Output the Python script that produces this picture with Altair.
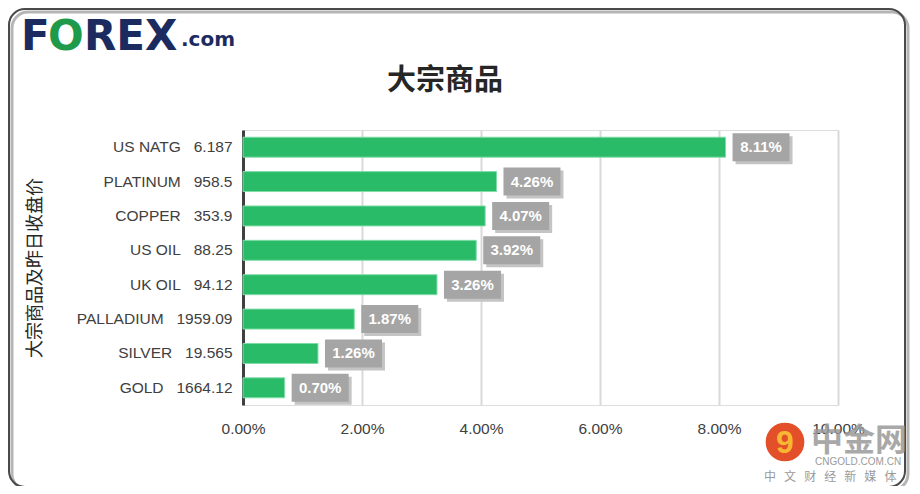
import altair as alt
import pandas as pd

names = ["US NATG", "PLATINUM", "COPPER", "US OIL", "UK OIL", "PALLADIUM", "SILVER", "GOLD"]
prices = ["6.187", "958.5", "353.9", "88.25", "94.12", "1959.09", "19.565", "1664.12"]
pcts = [8.11, 4.26, 4.07, 3.92, 3.26, 1.87, 1.26, 0.70]
x_ticks = [0, 0.02, 0.04, 0.06, 0.08, 0.10]

NB = "\u00a0"
labels = [f"{n}{NB*3}{p}" for n, p in zip(names, prices)]
df = pd.DataFrame({"label": labels, "pct": [v / 100 for v in pcts]})

W, H = 595, 275
y_enc = alt.Y("label:N", sort=labels, title="大宗商品及昨日收盘价",
              scale=alt.Scale(paddingInner=0.42, paddingOuter=0.21),
              axis=alt.Axis(ticks=False, domainColor="#404040", domainWidth=3,
                            labelFontSize=15.5, labelColor="#404040", labelPadding=11,
                            labelFont="Liberation Sans",
                            titleFont="Noto Sans CJK SC", titleFontSize=18,
                            titleFontWeight="normal", titleColor="#262626",
                            titleX=-208, titleY=H / 2, titleAngle=-90,
                            titleBaseline="middle", titleAlign="center"))
x_enc = alt.X("pct:Q", title=None,
              scale=alt.Scale(domain=[0, 0.1], nice=False),
              axis=alt.Axis(values=x_ticks, format=".2%", domain=False, ticks=False,
                            grid=True, gridColor="#d9d9d9", gridWidth=2, labelFlush=False,
                            labelFontSize=15.5, labelColor="#404040", labelPadding=16,
                            labelFont="Liberation Sans"))

base = alt.Chart(df)

bars = base.mark_bar(color="#29bb68", stroke="#7fdca6", strokeWidth=1).encode(x=x_enc, y=y_enc)
shadow = base.mark_bar(color="#c4c4c4", size=28, xOffset=10, x2Offset=67, yOffset=3).encode(
    x="pct:Q", x2="pct:Q", y=alt.Y("label:N", sort=labels))
box = base.mark_bar(color="#a5a5a5", size=28, xOffset=7, x2Offset=64).encode(
    x="pct:Q", x2="pct:Q", y=alt.Y("label:N", sort=labels))
txt = base.mark_text(align="center", baseline="middle", dx=35.5, fontSize=15,
                     fontWeight="bold", color="white", font="Liberation Sans").encode(
    x="pct:Q", y=alt.Y("label:N", sort=labels), text=alt.Text("pct:Q", format=".2%"))

# decorations
one = alt.Chart(pd.DataFrame({"a": [0]}))
title = one.mark_text(text="大宗商品", fontSize=29, font="Noto Sans CJK SC", fontWeight="bold",
                      color="#262626", align="center", baseline="middle").encode(
    x=alt.value(202), y=alt.value(-49))
border_shadow = one.mark_rect(filled=False, stroke="#b5b5b5", strokeWidth=3, cornerRadius=16).encode(
    x=alt.value(-231), x2=alt.value(665), y=alt.value(-118), y2=alt.value(360))
border = one.mark_rect(filled=False, stroke="#4a4a4a", strokeWidth=2, cornerRadius=16).encode(
    x=alt.value(-234), x2=alt.value(662), y=alt.value(-121), y2=alt.value(357))

logo_parts = pd.DataFrame({
    "t": ["F", "O", "REX", ".com"],
    "px": [-222, -195, -159, -62],
    "py": [-80, -80, -80, -84],
    "c": ["#1b2b5f", "#1f9a4b", "#1b2b5f", "#1b2b5f"],
    "s": [42, 42, 42, 20],
})
logo = alt.Chart(logo_parts).mark_text(align="left", baseline="alphabetic", fontWeight="bold",
                                       font="DejaVu Sans").encode(
    x=alt.X("px:Q", scale=None), y=alt.Y("py:Q", scale=None), text="t:N",
    color=alt.Color("c:N", scale=None), size=alt.Size("s:Q", scale=None))

wm_circle = one.mark_circle(size=1500, color="#e0461c", opacity=0.95).encode(
    x=alt.value(542), y=alt.value(312))
wm_inner = one.mark_text(text="9", fontSize=32, fontWeight="bold", color="#f7b733",
                         font="Liberation Sans").encode(x=alt.value(542), y=alt.value(313))
wm_text = one.mark_text(text="中金网", fontSize=32, fontWeight="bold", color="#9a9a9a",
                        font="Noto Sans CJK SC", align="left", opacity=0.85).encode(
    x=alt.value(568), y=alt.value(311))
wm_url = one.mark_text(text="CNGOLD.COM.CN", fontSize=10, color="#9a9a9a",
                       font="Liberation Sans", align="left").encode(
    x=alt.value(572), y=alt.value(332))
wm_sub = one.mark_text(text=(NB * 3).join("中文财经新媒体"), fontSize=12, color="#9a9a9a",
                       font="Noto Sans CJK SC", align="left").encode(
    x=alt.value(521), y=alt.value(347))

chart = alt.layer(
    bars, shadow, box, txt, title, border_shadow, border, logo,
    wm_circle, wm_inner, wm_text, wm_url, wm_sub
).properties(
    width=W, height=H,
    autosize=alt.AutoSizeParams(type="none"),
    padding={"left": 235, "top": 122, "right": 74, "bottom": 81},
).configure_view(stroke=None).configure(background="white")

chart.save("out.html", embed_options={"renderer": "svg", "actions": False})
